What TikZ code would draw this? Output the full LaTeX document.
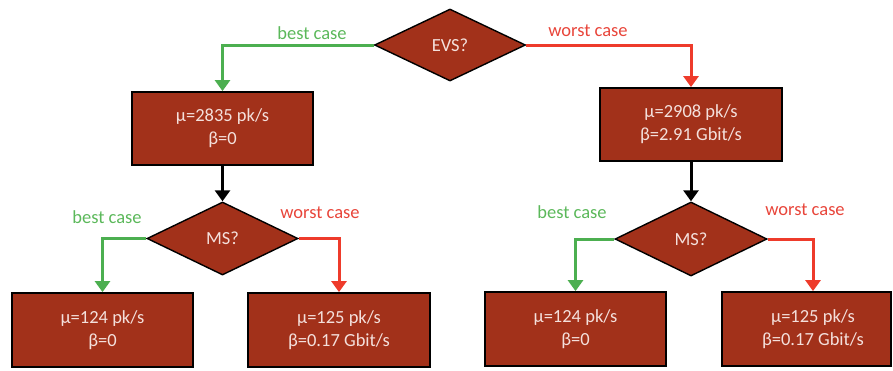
\documentclass[tikz,border=0pt]{standalone}
\usepackage{fontspec}
\setmainfont{Carlito}
\usetikzlibrary{shapes.geometric,arrows.meta}
\definecolor{boxfill}{HTML}{A2311A}
\definecolor{boxtext}{HTML}{F4E0DC}
\definecolor{bestline}{HTML}{4CAF50}
\definecolor{worstline}{HTML}{EE3B2B}
\definecolor{besttext}{HTML}{5BB85A}
\definecolor{worsttext}{HTML}{E8453A}
\tikzset{
  box/.style={rectangle, draw=black, line width=1.8pt, fill=boxfill,
    text=boxtext, align=center, inner sep=0pt, minimum height=74pt,
    font=\fontsize{18.5}{23}\selectfont},
  boxlabel/.style={text=boxtext, align=center, inner sep=0pt,
    font=\fontsize{18.5}{23}\selectfont},
  decision/.style={diamond, draw=black, line width=1.4pt, fill=boxfill,
    text=boxtext, inner sep=0pt, font=\fontsize{18.5}{23}\selectfont},
  flow/.style={line width=3pt, -{Triangle[width=15pt,length=11pt]}},
  bestflow/.style={flow, draw=bestline},
  worstflow/.style={flow, draw=worstline},
  mainflow/.style={flow, draw=black},
  caselabel/.style={inner sep=0pt, font=\fontsize{18.5}{23}\selectfont},
}
\begin{document}
\begin{tikzpicture}[x=1pt, y=-1pt]
\useasboundingbox (0,0) rectangle (893,370);

% first decision
\node[decision, minimum width=151pt, minimum height=72pt] (evs) at (450,45) {EVS?};

% results of the first decision
\node[box, minimum width=181pt, minimum height=73pt] (b1) at (222.5,128.5)
  {μ=2835 pk/s\\β=0};
\node[box, minimum width=182pt, minimum height=73pt] (b2) at (691,124.5)
  {μ=2908 pk/s\\β=2.91 Gbit/s};

% second-level decisions
\node[decision, minimum width=151pt, minimum height=73pt] (ms1) at (222.5,238.5) {MS?};
\node[decision, minimum width=152pt, minimum height=74pt] (ms2) at (691,239) {MS?};

% leaves
\node[box, minimum width=181pt] (b11) at (102.5,330) {μ=124 pk/s\\β=0};
\node[box, minimum width=182pt] (b12) at (339,330) {μ=125 pk/s\\β=0.17 Gbit/s};
\node[box, minimum width=181pt] (b21) at (575.5,329) {μ=124 pk/s\\β=0};
\node[box, minimum width=169pt] (b22) at (806.5,329) {};
\node[boxlabel] (b22text) at ([xshift=6.5pt]b22.center) {μ=125 pk/s\\β=0.17 Gbit/s};

% connectors
\draw[bestflow] (evs.west) -| (b1.north);
\draw[worstflow] (evs.east) -| (b2.north);
\draw[mainflow] (b1.south) -- (ms1.north);
\draw[mainflow] (b2.south) -- (ms2.north);
\draw[bestflow] (ms1.west) -| (b11.north);
\draw[worstflow] (ms1.east) -| (b12.north);
\draw[bestflow] (ms2.west) -| (b21.north);
\draw[worstflow] (ms2.east) -| ([xshift=6.5pt]b22.north);

% branch labels
\node[caselabel, text=besttext] (l1) at (312,33) {best case};
\node[caselabel, text=worsttext] (l2) at (588,31) {worst case};
\node[caselabel, text=besttext] (l3) at (107,217) {best case};
\node[caselabel, text=worsttext] (l4) at (320,213) {worst case};
\node[caselabel, text=besttext] (l5) at (572,212) {best case};
\node[caselabel, text=worsttext] (l6) at (805,210) {worst case};
\end{tikzpicture}
\end{document}
